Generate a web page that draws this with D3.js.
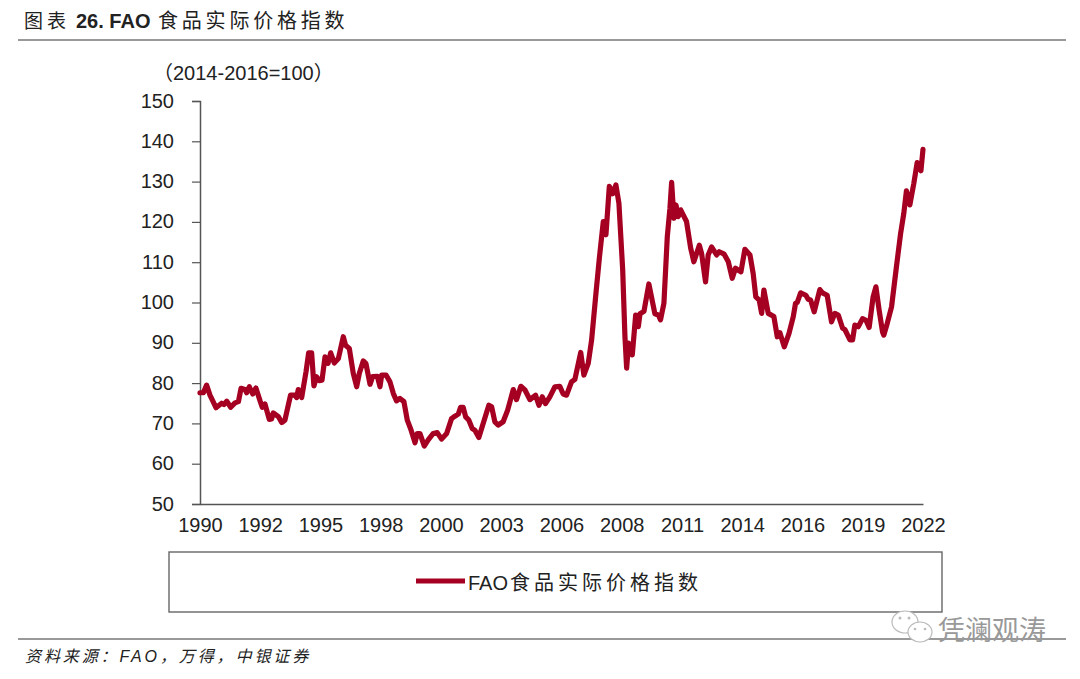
<!DOCTYPE html>
<html><head><meta charset="utf-8">
<script src="https://cdn.jsdelivr.net/npm/d3@7"></script>
<style>
html,body{margin:0;padding:0;background:#fff}
svg{display:block}
text{font-family:"Liberation Sans","Noto Sans CJK SC",sans-serif;fill:#222}
.axis text{font-size:20px;fill:#222}
</style></head><body>
<svg id="c" width="1080" height="679"></svg>
<script>
const titleLead = "图表";
const titleNumber = "26. FAO";
const titleName = "食品实际价格指数";
const unitText = "（2014-2016=100）";
const legendLatin = "FAO";
const legendName = "食品实际价格指数";
const sourceText = "资料来源：FAO，万得，中银证券";
const watermarkText = "凭澜观涛";
const xTickLabels = ["1990","1992","1995","1998","2000","2003","2006","2008","2011","2014","2016","2019","2022"];
const monthsPerTick = 32;
const yTicks = [50,60,70,80,90,100,110,120,130,140,150];
// months since Jan 1990, read at the visible vertices of the curve
const months = [0,1.8,3.5,5.3,8.5,11.5,12.7,14.2,16.3,18.6,20.4,21.8,23.9,24.8,26.2,28,29.7,31.9,33.1,34.5,36.8,38,38.9,41.6,43.4,45.1,48.1,50.4,51.3,52.2,54,56.3,57.7,59.3,60.5,61.9,63.4,64.8,66.4,68,69.4,71.3,73.5,76.1,77.3,79.3,81.4,83.2,84.6,86.7,88.1,90.3,91.7,94.2,95.6,96.5,98.8,100.9,102.7,104.4,106.2,108.3,110.1,112,114.2,115.4,116.8,119.1,121.2,123.9,126,128.3,131,133.6,135.4,137.2,138.4,139.8,141.1,142.8,144.6,146,148.1,150.4,153.4,154.9,156.6,158.4,161,163.4,166.4,168.1,170.4,172.6,175.2,178.2,180,181.8,183.5,185.8,188.5,191.1,192.9,194.7,197.3,199.1,202.2,203.9,206.2,208,210.3,212.1,214.2,215.6,217.4,219.2,220.9,222.5,224.5,225.7,226.6,227.6,229.6,231.4,232.8,233.7,235.8,238.4,241.6,243.4,244.6,246.4,248.2,249.6,250.5,251.7,252.8,254,255.3,258.4,260.6,262.3,265.2,266.4,268.5,269.9,271.7,274.4,275.8,278.4,280.6,282.7,284.4,287.3,289.4,292.1,293.8,295.2,297,298.3,299.5,301.8,304.8,306.6,308,310.3,312.8,315.1,316.3,317.2,319,321.8,323,324.3,326.2,329.2,330.6,333.1,335.4,337.2,339,341.3,342.5,345.2,346.6,347.8,349.6,351.9,353.7,355.4,357.5,359,360.7,362.5,363.2,365,367.3,369.9,372.1,373.8,375.2,377,379.1,380.9,382.9,384];
const foodIndex = [77.6,77.6,79.5,77,73.9,75,74.7,75.5,74,75.1,75.4,78.7,78.4,77.6,79.1,77.3,78.8,75.6,74,74.8,71,71.1,72.6,71.7,70.2,70.8,77,77,76.4,78.4,76.4,82.8,87.5,87.5,79.3,81.6,80.6,80.7,86.5,84.9,87.5,85,86.1,91.5,89.4,88.6,82.4,79.1,82.4,85.5,84.9,79.7,81.6,81.7,79.1,82,82,80.3,77.4,75.6,76.2,75.4,70.8,68.5,65.2,67.5,67.5,64.4,65.9,67.5,67.7,66.1,67.5,71.2,71.8,72.3,74,74,71.6,70.8,68.7,68.3,66.5,70,74.5,74.1,70.4,69.6,70.4,73.3,78.4,75.9,79.2,78.3,75.9,77,74.5,76.6,74.9,76.6,79.1,79.2,77.3,77,80.3,80.9,87.6,82,84.9,90.7,102.3,111,120.1,116.8,128.8,127,129.2,124.6,108.1,91.5,83.7,89.9,87,96.9,94,97.2,97.8,104.6,97.2,96.9,95.7,99.8,116.4,123.4,129.8,120.9,124.2,121.3,123,120.1,113.5,110.1,114.2,112.2,105.1,111.8,113.8,111.8,112.6,112,110.1,106,108.5,107.6,113.2,111.8,107.2,101.4,100.6,97.3,103.1,97.3,96.5,91.5,92.5,89,92.3,96.5,99.8,100,102.4,101.8,100.8,100.6,97.7,103.2,102.4,101.8,95.2,97.3,96.9,93.6,93.3,90.7,90.7,94.4,94,96,95.6,93.8,101.4,103.9,98.1,92.7,91.9,94.8,98.9,108.9,117.1,122.1,127.7,124.2,129.5,134.7,132.7,138];

const svg = d3.select("#c");
const x = d3.scaleLinear().domain([0,(xTickLabels.length-1)*monthsPerTick]).range([200,923]);
const y = d3.scaleLinear().domain([50,150]).range([504,101]);
const axisColor = "#555";

// header and footer
svg.append("text").attr("x",24).attr("y",28).attr("font-size",19).attr("letter-spacing","4px").text(titleLead);
svg.append("text").attr("x",76).attr("y",28).attr("font-size",20).attr("font-weight","bold").text(titleNumber);
svg.append("text").attr("x",158).attr("y",28).attr("font-size",20).attr("letter-spacing","3.8px").text(titleName);
svg.append("line").attr("x1",18).attr("x2",1066).attr("y1",40).attr("y2",40).attr("stroke","#777").attr("stroke-width",1.3);
svg.append("line").attr("x1",18).attr("x2",1066).attr("y1",639).attr("y2",639).attr("stroke","#777").attr("stroke-width",1.3);
svg.append("text").attr("x",25).attr("y",662).attr("font-size",16).attr("font-style","italic").attr("letter-spacing","2.9px").text(sourceText);
svg.append("text").attr("x",153).attr("y",80).attr("font-size",20).text(unitText);

// axes
const gy = svg.append("g").attr("class","axis").attr("transform","translate(200,0)")
  .call(d3.axisLeft(y).tickValues(yTicks).tickSize(8).tickPadding(18).tickFormat(d3.format("d")));
gy.selectAll("text").attr("dy","0.3em");
const gx = svg.append("g").attr("class","axis").attr("transform","translate(0,504)")
  .call(d3.axisBottom(x).tickValues(xTickLabels.map((d,i)=>i*monthsPerTick)).tickSize(0).tickPadding(14)
  .tickFormat((d,i)=>xTickLabels[i]));
svg.selectAll(".axis .domain").attr("stroke",axisColor).attr("stroke-width",1.5);
svg.selectAll(".axis .tick line").attr("stroke",axisColor).attr("stroke-width",1.2);

// series
const line = d3.line().x((d,i)=>x(months[i])).y(d=>y(d));
svg.append("path").datum(foodIndex).attr("d",line).attr("fill","none")
  .attr("stroke","#A50021").attr("stroke-width",5.2).attr("stroke-linejoin","round").attr("stroke-linecap","round");

// legend
svg.append("rect").attr("x",169).attr("y",552).attr("width",773).attr("height",60).attr("fill","none").attr("stroke","#666").attr("stroke-width",1.4);
svg.append("line").attr("x1",416).attr("x2",465).attr("y1",581).attr("y2",581).attr("stroke","#A50021").attr("stroke-width",5);
svg.append("text").attr("x",468).attr("y",590).attr("font-size",20).text(legendLatin);
svg.append("text").attr("x",510).attr("y",590).attr("font-size",20).attr("letter-spacing","4px").text(legendName);

// watermark
const wm = svg.append("g").attr("fill","#fff").attr("stroke","#bbb").attr("stroke-width",1.2);
wm.append("ellipse").attr("cx",905).attr("cy",622).attr("rx",13).attr("ry",11);
wm.append("ellipse").attr("cx",920).attr("cy",632).attr("rx",12).attr("ry",10);
const eyes = svg.append("g").attr("fill","#bbb");
eyes.append("circle").attr("cx",900).attr("cy",618).attr("r",1.5);
eyes.append("circle").attr("cx",909).attr("cy",618).attr("r",1.5);
eyes.append("circle").attr("cx",915).attr("cy",629).attr("r",1.3);
eyes.append("circle").attr("cx",925).attr("cy",629).attr("r",1.3);
svg.append("text").attr("x",938).attr("y",640).attr("font-size",27).style("fill","#999").text(watermarkText);
</script>
</body></html>
